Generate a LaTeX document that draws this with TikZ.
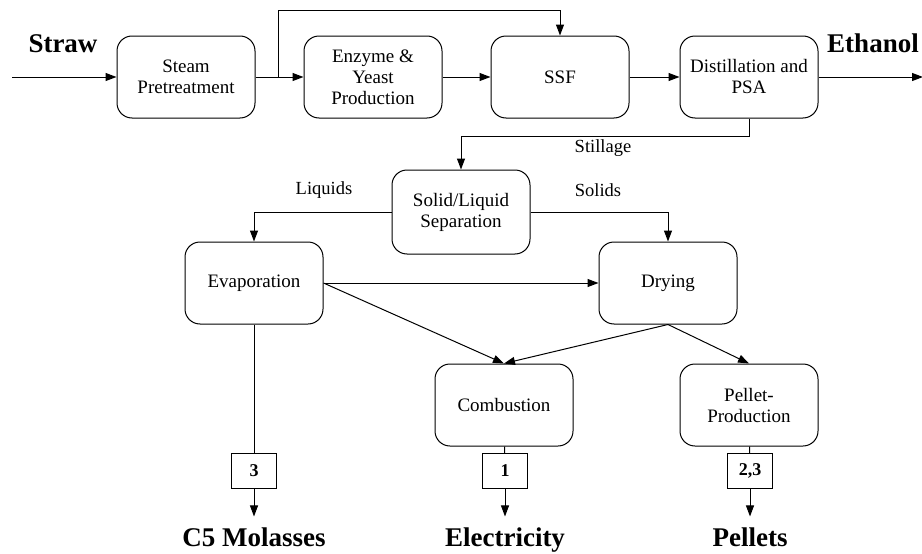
\documentclass[tikz,border=0pt]{standalone}
\usepackage{fontspec}
\setmainfont{Liberation Serif}
\usetikzlibrary{positioning,arrows.meta}

\begin{document}
\begin{tikzpicture}[x=1pt,y=-1pt,node distance=48pt,
   proc/.style={draw,rounded corners=15pt,minimum width=138pt,minimum height=82pt,align=center,
     inner sep=1pt,font=\fontsize{19}{21}\selectfont,line width=1pt},
   res/.style={draw,minimum width=45pt,minimum height=35pt,inner sep=2pt,
     font=\bfseries\fontsize{18}{20}\selectfont,line width=1.2pt},
   prod/.style={font=\bfseries\fontsize{27}{30}\selectfont,text height=19pt,text depth=6pt,anchor=base},
   lbl/.style={font=\fontsize{18.5}{20}\selectfont},
   flow/.style={line width=1pt,-{Triangle[length=11pt,width=8pt]}}]
  \useasboundingbox (0,0) rectangle (922,554);
  % main line
  \node[proc] (steam) at (186,77) {Steam\\ Pretreatment};
  \node[proc,right=of steam] (enz) {Enzyme \&\\ Yeast\\ Production};
  \node[proc,right=of enz] (ssf) {SSF};
  \node[proc,right=50pt of ssf] (dist) {Distillation and\\ PSA};
  \node[prod] (straw) at (63,52) {Straw};
  \node[prod] (eth) at (873,52) {Ethanol};
  \coordinate (in) at (12,77);
  \coordinate (out) at (923,77);
  \coordinate (j) at (278,77);
  \coordinate (jt) at (278,10);
  \draw[flow] (in) -- (steam);
  \draw[flow] (steam) -- (enz);
  \draw[flow] (j) -- (jt) -| (ssf.north);
  \draw[flow] (enz) -- (ssf);
  \draw[flow] (ssf) -- (dist);
  \draw[flow] (dist) -- (out);
  % stillage treatment
  \node[proc,minimum height=84pt] (sep) at (461,212) {Solid/Liquid\\ Separation};
  \node[proc] (evap) at (254,283) {Evaporation};
  \node[proc] (dry) at (668,283) {Drying};
  \node[proc] (comb) at (504,405) {Combustion};
  \node[proc] (pell) at (749,405) {Pellet-\\ Production};
  \draw[flow] (dist.south) -- ++(0,18) -| (sep.north);
  \node[lbl] (still) at (603,148) {Stillage};
  \draw[flow] (sep.west) -| (evap.north);
  \node[lbl] (liq) at (324,190) {Liquids};
  \draw[flow] (sep.east) -| (dry.north);
  \node[lbl] (sol) at (598,190) {Solids};
  \draw[flow] (evap) -- (dry);
  \draw[flow] (evap.east) -- (comb.north);
  \draw[flow] (dry.south) -- (comb.north);
  \draw[flow] (dry.south) -- (pell.north);
  % products
  \node[res] (r3) at (254,471) {3};
  \node[res] (r1) at (505,471) {1};
  \node[res] (r23) at (750,471) {2,3};
  \node[prod] (mol) at (254,546) {C5 Molasses};
  \node[prod] (elec) at (505,546) {Electricity};
  \node[prod] (pel) at (750,546) {Pellets};
  \draw[line width=1pt] (evap) -- (r3);
  \draw[line width=1pt] (comb) -- (r1);
  \draw[line width=1pt] (pell) -- (r23);
  \draw[flow,shorten >=7pt] (r3) -- (mol);
  \draw[flow,shorten >=7pt] (r1) -- (elec);
  \draw[flow,shorten >=7pt] (r23) -- (pel);
\end{tikzpicture}
\end{document}
